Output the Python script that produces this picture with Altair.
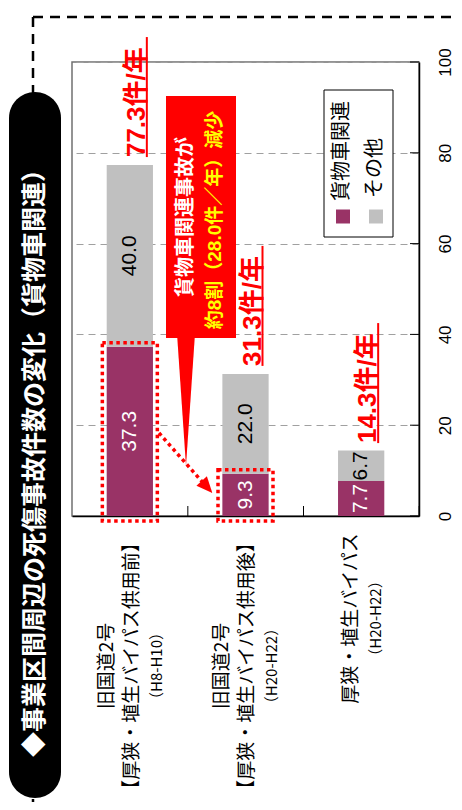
import altair as alt
import pandas as pd

# ---------------- data ----------------
category_lines = [
    ["旧国道2号", "【厚狭・埴生バイパス供用前】", "（H8-H10）"],
    ["旧国道2号", "【厚狭・埴生バイパス供用後】", "（H20-H22）"],
    ["厚狭・埴生バイパス", "（H20-H22）"],
]
categories = ["".join(l) for l in category_lines]
series = ["貨物車関連", "その他"]
cargo = [37.3, 9.3, 7.7]
other = [40.0, 22.0, 6.7]
totals = [77.3, 31.3, 14.3]
highlighted = [True, True, False]
y_ticks = [0, 20, 40, 60, 80, 100]
colors = ["#993366", "#C0C0C0"]
title_text = "◆事業区間周辺の死傷事故件数の変化（貨物車関連）"
callout_lines = ["貨物車関連事故が", "約8割（28.0件／年）減少"]

# ---------------- tables ----------------
rows = []
for i, c in enumerate(categories):
    rows.append({"cat": c, "series": series[0], "value": cargo[i], "ord": 0})
    rows.append({"cat": c, "series": series[1], "value": other[i], "ord": 1})
df_bars = pd.DataFrame(rows)
df_tot = pd.DataFrame({"cat": categories, "total": totals})
df_hl = pd.DataFrame({"cat": categories, "cargo": cargo, "hl": highlighted})
lab_rows = []
for i, lines in enumerate(category_lines):
    for j, t in enumerate(lines):
        lab_rows.append({"cat": categories[i], "i": j, "n": len(lines), "text": t})
df_lab = pd.DataFrame(lab_rows)
df_ticks = pd.DataFrame({"tick": y_ticks})
df_series = pd.DataFrame({"series": series})
one = pd.DataFrame({"a": [0]})

W, H = 347, 454
JP = "Noto Sans CJK JP"
MIX = "Liberation Sans, Noto Sans CJK JP"

x_enc = alt.X("cat:N", sort=categories,
              scale=alt.Scale(paddingInner=0.6, paddingOuter=0.3),
              axis=alt.Axis(labels=False, ticks=False, title=None, grid=False,
                            domainColor="black", domainWidth=1.5))
y_scale = alt.Scale(domain=[0, 100], nice=False, zero=True)
y_axis = alt.Axis(orient="right", values=y_ticks, labelAngle=270, labelAlign="center",
                  labelBaseline="middle", labelPadding=26, ticks=False, tickSize=0,
                  labelFlush=False, labelOverlap=False,
                  domainColor="black", domainWidth=1.5, grid=True, gridDash=[7, 5],
                  gridColor="#a0a0a0", gridWidth=1, title=None,
                  labelFont="Liberation Sans", labelFontSize=17, labelColor="black")
color_scale = alt.Scale(domain=series, range=colors)

stacked = alt.Chart(df_bars).transform_stack(
    stack="value", groupby=["cat"], as_=["y0", "y1"], sort=[alt.SortField("ord")]
).transform_calculate(mid="(datum.y0 + datum.y1) / 2")

# decorations
frame_h = alt.Chart(one).mark_rule(color="black", strokeWidth=2.5, strokeDash=[10, 7]).encode(
    x=alt.value(-39), x2=alt.value(400), y=alt.value(-45))
frame_v = alt.Chart(one).mark_rule(color="black", strokeWidth=2.5, strokeDash=[10, 7]).encode(
    x=alt.value(-39), y=alt.value(-45), y2=alt.value(760))
pill = alt.Chart(one).mark_rect(color="black", cornerRadius=26).encode(
    x=alt.value(-63), x2=alt.value(-11), y=alt.value(30), y2=alt.value(736))
title = alt.Chart(one).mark_text(angle=270, align="center", baseline="middle", font=JP,
                                 fontSize=25, fontWeight="bold", color="white").encode(
    x=alt.value(-37), y=alt.value(395), text=alt.value(title_text))

bars = stacked.mark_bar().encode(
    x=x_enc,
    y=alt.Y("y0:Q", scale=y_scale, axis=y_axis),
    y2="y1:Q",
    color=alt.Color("series:N", scale=color_scale, legend=None),
)
seg_labels = stacked.mark_text(angle=270, align="center", baseline="middle",
                               font="Liberation Sans", fontSize=21).encode(
    x=x_enc,
    y=alt.Y("mid:Q", scale=y_scale, axis=y_axis),
    text=alt.Text("value:Q", format=".1f"),
    color=alt.condition(alt.datum.series == series[0], alt.value("white"), alt.value("black")),
)
boxes = alt.Chart(df_hl).transform_filter("datum.hl").mark_bar(
    size=55, fillOpacity=0, stroke="red", strokeWidth=3.5, strokeDash=[3.5, 3.5],
    yOffset=-4, y2Offset=5).encode(
    x=x_enc, y=alt.Y("cargo:Q", scale=y_scale, axis=y_axis), y2=alt.datum(0))

tot_text = alt.Chart(df_tot).transform_calculate(
    label="format(datum.total, '.1f') + '件/年'"
).mark_text(angle=270, align="left", baseline="alphabetic", dx=8, dy=15, font=MIX,
            fontSize=26, fontWeight="bold", color="red").encode(
    x=x_enc, y=alt.Y("total:Q", scale=y_scale, axis=y_axis), text="label:N")
tot_line = alt.Chart(df_tot).mark_rule(color="red", strokeWidth=2, xOffset=17,
                                       yOffset=-8, y2Offset=-128).encode(
    x=x_enc, y=alt.Y("total:Q", scale=y_scale, axis=y_axis), y2="total:Q")

cat_labels = alt.Chart(df_lab).transform_calculate(
    fs="test(/^（/, datum.text) ? 15 : 19"
).transform_calculate(
    w="length(datum.text) * datum.fs"
).transform_joinaggregate(
    maxw="max(w)", groupby=["cat"]
).transform_calculate(
    off="(datum.i - (datum.n - 1) / 2) * 25 + 25",
    ypix=f"{H} + 17 + datum.maxw / 2",
).mark_text(angle=270, align="center", baseline="middle", font=JP, color="black").encode(
    x=x_enc,
    xOffset=alt.XOffset("off:Q", scale=None),
    y=alt.Y("ypix:Q", scale=None, axis=None),
    text="text:N",
    size=alt.Size("fs:Q", scale=None, legend=None),
)

cat_ticks = alt.Chart(pd.DataFrame({"cat": categories})).mark_rule(
    color="black", strokeWidth=1, xOffset=58).encode(
    x=x_enc, y=alt.value(H - 10), y2=alt.value(H))
val_ticks = alt.Chart(df_ticks).mark_rule(color="black", strokeWidth=1).encode(
    x=alt.value(W - 9), x2=alt.value(W), y=alt.Y("tick:Q", scale=y_scale, axis=y_axis))

arrow_line = alt.Chart(one).mark_rule(color="red", strokeWidth=3.5, strokeDash=[3.5, 3.5]).encode(
    x=alt.value(87), y=alt.value(371), x2=alt.value(133), y2=alt.value(423))
arrow_head = alt.Chart(one).mark_point(shape="M -0.44 -0.5 L 0.44 -0.5 L 0 0.5 Z", size=1024,
                                       angle=318, filled=True, color="red", opacity=1,
                                       strokeWidth=0).encode(
    x=alt.value(135), y=alt.value(425))
call_rect = alt.Chart(one).mark_rect(color="red").encode(
    x=alt.value(94), x2=alt.value(164), y=alt.value(34), y2=alt.value(276))
call_ptr = alt.Chart(one).mark_point(shape="M -0.136 -1 L 0.136 -1 L 0 1 Z", size=17424,
                                     filled=True, color="red", opacity=1, strokeWidth=0).encode(
    x=alt.value(114), y=alt.value(338))
call_t1 = alt.Chart(one).mark_text(angle=270, align="center", baseline="middle", font=MIX,
                                   fontSize=20, fontWeight="bold", color="white").encode(
    x=alt.value(114), y=alt.value(155), text=alt.value(callout_lines[0]))
call_t2 = alt.Chart(one).mark_text(angle=270, align="center", baseline="middle", font=MIX,
                                   fontSize=19, fontWeight="bold", color="#FFFF00").encode(
    x=alt.value(143), y=alt.value(158), text=alt.value(callout_lines[1]))

leg_box = alt.Chart(one).mark_rect(fill="white", stroke="black", strokeWidth=1).encode(
    x=alt.value(252), x2=alt.value(321), y=alt.value(28), y2=alt.value(175))
leg_sq1 = alt.Chart(df_series).transform_filter(alt.datum.series == series[0]).mark_square(
    size=196, opacity=1).encode(x=alt.value(271), y=alt.value(154.5),
                                color=alt.Color("series:N", scale=color_scale, legend=None))
leg_sq2 = alt.Chart(df_series).transform_filter(alt.datum.series == series[1]).mark_square(
    size=196, opacity=1).encode(x=alt.value(304), y=alt.value(154.5),
                                color=alt.Color("series:N", scale=color_scale, legend=None))
leg_t1 = alt.Chart(one).mark_text(angle=270, align="left", baseline="middle", font=JP,
                                  fontSize=20, color="black").encode(
    x=alt.value(269.5), y=alt.value(139), text=alt.value(series[0]))
leg_t2 = alt.Chart(one).mark_text(angle=270, align="left", baseline="middle", font=JP,
                                  fontSize=20, color="black").encode(
    x=alt.value(303), y=alt.value(136), text=alt.value(series[1]))

chart = alt.layer(
    frame_h, frame_v, pill, title,
    bars, seg_labels, boxes, tot_text, tot_line, cat_labels, cat_ticks, val_ticks,
    arrow_line, arrow_head, call_rect, call_ptr, call_t1, call_t2,
    leg_box, leg_sq1, leg_sq2, leg_t1, leg_t2,
).properties(
    width=W, height=H,
    padding={"left": 64, "top": 54, "right": 35, "bottom": 286},
    autosize=alt.AutoSizeParams(type="none"),
    background="white",
).configure_view(stroke="#707070", strokeWidth=1.5)

chart.save("out.html", embed_options={"renderer": "svg", "actions": False})
